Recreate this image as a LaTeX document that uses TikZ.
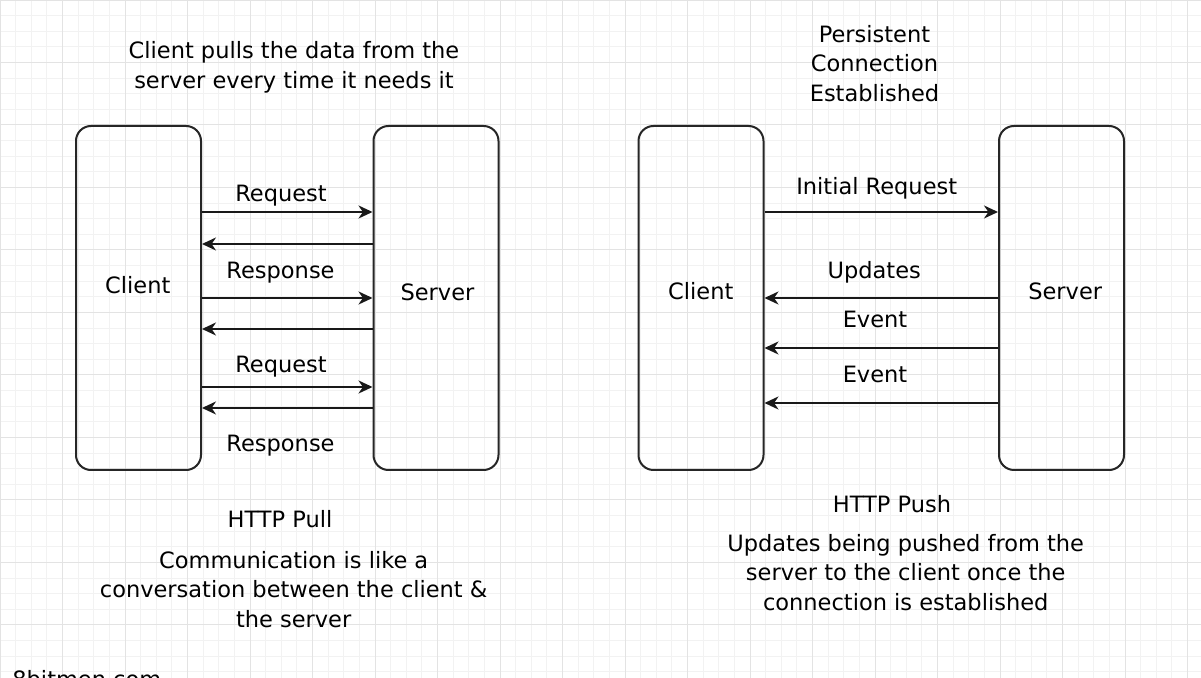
\documentclass[tikz,border=0pt]{standalone}
\usepackage{fontspec}
\setmainfont{DejaVu Sans}
\usetikzlibrary{arrows.meta}
\tikzstyle{box} = [draw=black!85, line width=1pt, rounded corners=7.5pt, minimum width=62.5pt, minimum height=172pt, inner sep=0pt]
\tikzstyle{caption} = [inner sep=0pt, align=center, font=\fontsize{11.25}{14.75}\selectfont]
\tikzstyle{message} = [draw=black!90, line width=1pt, -{Stealth[length=7pt,width=6.5pt,inset=2.2pt]}]

\begin{document}
\begin{tikzpicture}[x=0.5pt,y=-0.5pt]
    % Fix the frame and lay down the grid paper
    \useasboundingbox (0,0) rectangle (1201,678);
    \clip (0,0) rectangle (1201,678);
    \fill[white] (0,0) rectangle (1201,678);
    \draw[black!5, line width=0.5pt, step=7.8125pt] (0,0) grid (1201,678);
    \draw[black!11, line width=0.5pt, step=31.25pt] (0,0) grid (1201,678);

    % First we draw the client and server boxes
    \foreach \pos/\name in {{(138.5,298)/clientA}, {(436,298)/serverA}, {(701,298)/clientB}, {(1061.5,298)/serverB}}
        \node[box] (\name) at \pos {};

    \foreach \pos/\name/\txt in {{(137.8,285)/clientAtxt/Client}, {(437.5,292)/serverAtxt/Server}, {(700.8,291.3)/clientBtxt/Client}, {(1065.2,291.7)/serverBtxt/Server}}
        \node[caption] (\name) at \pos {\txt};

    % Connect client and server with messages
    \foreach \source/\dest/\y in {clientA.east/serverA.west/212, serverA.west/clientA.east/244, clientA.east/serverA.west/298, serverA.west/clientA.east/329, clientA.east/serverA.west/387, serverA.west/clientA.east/408, clientB.east/serverB.west/212, serverB.west/clientB.east/298, serverB.west/clientB.east/348, serverB.west/clientB.east/403}
        \path[message] (\source |- 0,\y) -- (\dest |- 0,\y);

    % Message labels
    \foreach \pos/\name/\txt in {{(281,195.3)/reqA/Request}, {(280.5,272.8)/resA/Response}, {(281,366.8)/reqB/Request}, {(280.5,445.8)/resB/Response}, {(876.7,188.3)/initC/Initial Request}, {(874.2,272.2)/updC/Updates}, {(875,319.2)/evtC/Event}, {(875,374.2)/evtD/Event}}
        \node[caption] (\name) at \pos {\txt};

    % Titles and notes
    \node[caption] (pullnote) at (294,67.3) {Client pulls the data from the\\server every time it needs it};
    \node[caption] (pushnote) at (874.5,63.3) {Persistent\\Connection\\Established};
    \node[caption] (pulltitle) at (280,519.5) {HTTP Pull};
    \node[caption] (pulldesc) at (293.7,589.2) {Communication is like a\\conversation between the client \&\\the server};
    \node[caption] (pushtitle) at (892,504) {HTTP Push};
    \node[caption] (pushdesc) at (905.7,572.5) {Updates being pushed from the\\server to the client once the\\connection is established};
    \node[caption, anchor=base west] (site) at (12,688) {8bitmen.com};
\end{tikzpicture}
\end{document}
